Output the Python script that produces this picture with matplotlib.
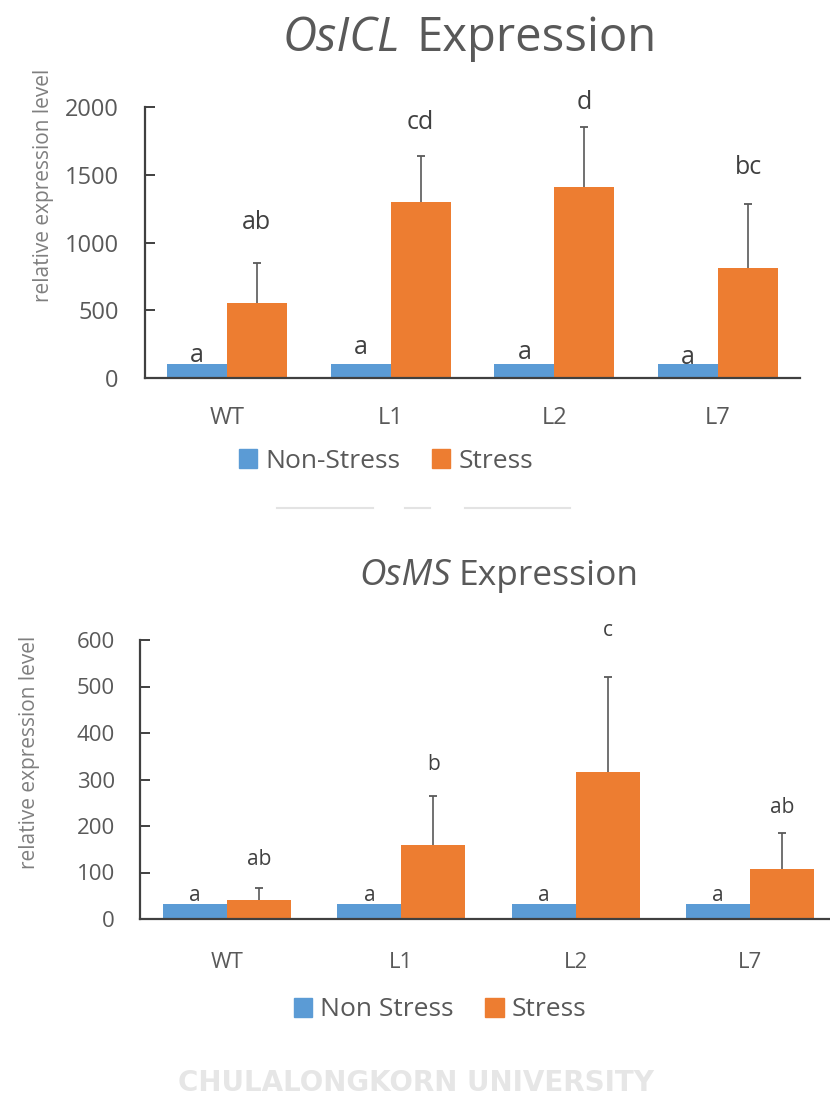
import matplotlib
matplotlib.use("Agg")
import matplotlib.pyplot as plt
import numpy as np
from matplotlib.lines import Line2D

plt.rcParams['font.family'] = ['Open Sans', 'DejaVu Sans']

lines = ["WT", "L1", "L2", "L7"]

# OsICL
icl_nonstress = [100, 100, 100, 100]
icl_stress = [555, 1300, 1410, 810]
icl_stress_err = [295, 340, 440, 475]
icl_ns_letters = ["a", "a", "a", "a"]
icl_ns_letter_y = [165, 224, 187, 150]
icl_s_letters = ["ab", "cd", "d", "bc"]
icl_s_letter_y = [1144, 1889, 2030, 1557]

# OsMS
ms_nonstress = [32, 32, 32, 32]
ms_stress = [40, 159, 316, 108]
ms_stress_err = [27, 106, 205, 77]
ms_ns_letters = ["a", "a", "a", "a"]
ms_ns_letter_y = [50, 50, 50, 50]
ms_s_letters = ["ab", "b", "c", "ab"]
ms_s_letter_y = [127, 333, 621, 239]

blue = "#5B9BD5"
orange = "#ED7D31"
axis_col = "#404040"
label_col = "#595959"
letter_col = "#404040"

W, H = 830, 1095
fig = plt.figure(figsize=(W / 100, H / 100), dpi=100)


def px_axes(x0, x1, ytop, ybot):
    return fig.add_axes([x0 / W, (H - ybot) / H, (x1 - x0) / W, (ybot - ytop) / H])


def bar_panel(ax, ns, s, s_err, ns_let, ns_let_y, s_let, s_let_y, ymax, step,
              bw, tick_fs, let_fs, xpad, ypad):
    x = np.arange(len(lines))
    s = np.asarray(s)
    tops = s + np.asarray(s_err)
    ax.bar(x - bw / 2, ns, bw, color=blue, zorder=2)
    ax.bar(x + bw / 2, s, bw, color=orange, zorder=2)
    # plus-only error bars: stem from bar top, cap at the upper end
    ax.vlines(x + bw / 2, s, tops, color="#595959", lw=1.2, zorder=3)
    ax.plot(x + bw / 2, tops, ls="none", marker="_", ms=6, mew=1.3,
            color="#595959", zorder=3, clip_on=False)
    for i in range(len(lines)):
        ax.text(x[i] - bw / 2, ns_let_y[i], ns_let[i], ha="center", va="center",
                fontsize=let_fs, color=letter_col, clip_on=False)
        ax.text(x[i] + bw / 2, s_let_y[i], s_let[i], ha="center", va="center",
                fontsize=let_fs, color=letter_col, clip_on=False)
    ax.set_xlim(-0.5, len(lines) - 0.5)
    ax.set_ylim(0, ymax)
    ax.set_yticks(np.arange(0, ymax + 1, step))
    ax.set_xticks(x)
    ax.set_xticklabels(lines)
    for side in ["top", "right"]:
        ax.spines[side].set_visible(False)
    for side in ["left", "bottom"]:
        ax.spines[side].set_color(axis_col)
        ax.spines[side].set_linewidth(1.6)
    ax.tick_params(axis="y", direction="in", length=7, width=1.4, color=axis_col,
                   labelsize=tick_fs, labelcolor=label_col, pad=ypad)
    ax.tick_params(axis="x", length=0, labelsize=tick_fs, labelcolor=label_col, pad=xpad)
    ax.set_facecolor("none")


# top panel
ax1 = px_axes(145, 800, 107, 378)
bar_panel(ax1, icl_nonstress, icl_stress, icl_stress_err, icl_ns_letters, icl_ns_letter_y,
          icl_s_letters, icl_s_letter_y, 2000, 500, 0.366, 17, 18, 20, 19)
fig.text(43 / W, 1 - 185 / H, "relative expression level", rotation=90, ha="center",
         va="center", fontsize=15, color="#7F7F7F")
fig.text(400 / W, 1 - 51 / H, "OsICL", ha="right", va="baseline", fontsize=34,
         style="italic", color=label_col)
fig.text(416 / W, 1 - 51 / H, "Expression", ha="left", va="baseline", fontsize=34,
         color=label_col)

# bottom panel
ax2 = px_axes(140, 837, 640, 919)
bar_panel(ax2, ms_nonstress, ms_stress, ms_stress_err, ms_ns_letters, ms_ns_letter_y,
          ms_s_letters, ms_s_letter_y, 600, 100, 0.367, 16, 15, 24, 18)
fig.text(30 / W, 1 - 752 / H, "relative expression level", rotation=90, ha="center",
         va="center", fontsize=15, color="#7F7F7F")
fig.text(451 / W, 1 - 585 / H, "OsMS", ha="right", va="baseline", fontsize=26.5,
         style="italic", color=label_col)
fig.text(458 / W, 1 - 585 / H, "Expression", ha="left", va="baseline", fontsize=25.5,
         color=label_col)

# legends
def legend_at(names, cx, cy, fs):
    handles = [plt.Rectangle((0, 0), 1, 1, color=blue), plt.Rectangle((0, 0), 1, 1, color=orange)]
    fig.legend(handles, names, loc="center", bbox_to_anchor=(cx / W, 1 - cy / H),
               ncol=2, frameon=False, fontsize=fs, handlelength=0.7, handleheight=0.7,
               handletextpad=0.3, columnspacing=1.2, labelcolor=label_col)

legend_at(["Non-Stress", "Stress"], 386, 461, 19)
legend_at(["Non Stress", "Stress"], 440, 1010, 19)

# faint stroke between the panels
for x0, x1 in [(277, 373), (405, 430), (465, 570)]:
    fig.add_artist(Line2D([x0 / W, x1 / W], [1 - 508 / H, 1 - 508 / H],
                          transform=fig.transFigure, color="#E3E3E3", lw=1.5))

# watermark along the bottom edge
fig.text(416 / W, 4 / H, "CHULALONGKORN UNIVERSITY", ha="center", va="baseline",
         fontsize=20, fontweight="bold", color="#E6E6E6", family=["DejaVu Sans"])

fig.savefig("out.png", dpi=100, facecolor="white")
